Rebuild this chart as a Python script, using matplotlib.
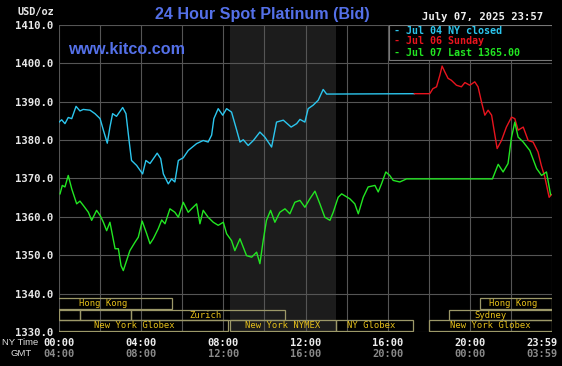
import matplotlib
matplotlib.use("Agg")
import matplotlib.pyplot as plt
from matplotlib.patches import Rectangle
from matplotlib.transforms import blended_transform_factory

# ---------------- data ----------------
jul04_h = [0, 0.13, 0.29, 0.45, 0.62, 0.83, 1.02, 1.18, 1.51, 1.75, 2.0, 2.16, 2.35, 2.48, 2.61, 2.8,
           3.1, 3.26, 3.42, 3.53, 3.78, 4.07, 4.23, 4.43, 4.78, 4.95, 5.08, 5.32, 5.48, 5.64, 5.81,
           6.05, 6.29, 6.7, 7.02, 7.26, 7.43, 7.54, 7.75, 7.97, 8.16, 8.4, 8.65, 8.81, 8.97, 9.21,
           9.46, 9.78, 10.02, 10.35, 10.59, 10.92, 11.3, 11.57, 11.73, 11.97, 12.13, 12.37, 12.62,
           12.86, 13.03, 17.3]
jul04_v = [1384.7, 1385.3, 1384.3, 1385.9, 1385.6, 1388.8, 1387.6, 1388.0, 1387.8, 1386.9, 1385.6,
           1382.6, 1379.2, 1383.4, 1386.9, 1386.2, 1388.5, 1386.9, 1379.5, 1374.7, 1373.4, 1371.2,
           1374.7, 1373.9, 1376.6, 1375.2, 1371.2, 1368.6, 1369.9, 1369.1, 1374.7, 1375.4, 1377.3,
           1379.1, 1379.9, 1379.5, 1381.3, 1385.6, 1388.2, 1386.5, 1388.2, 1387.3, 1382.6, 1379.5,
           1380.1, 1378.6, 1379.9, 1382.1, 1380.8, 1378.2, 1384.7, 1385.2, 1383.4, 1384.3, 1385.4,
           1384.7, 1388.2, 1389.1, 1390.4, 1393.2, 1392.0, 1392.1]

jul06_h = [17.3, 18.05, 18.2, 18.38, 18.54, 18.65, 18.78, 18.94, 19.1, 19.35, 19.59, 19.76, 20.0,
           20.24, 20.4, 20.57, 20.73, 20.89, 21.06, 21.22, 21.33, 21.54, 21.78, 22.03, 22.19, 22.35,
           22.6, 22.84, 23.08, 23.32, 23.48, 23.65, 23.86, 23.97]
jul06_v = [1392.1, 1392.1, 1393.4, 1393.9, 1396.9, 1399.3, 1397.8, 1396.1, 1395.6, 1394.3, 1393.9,
           1395.0, 1394.3, 1395.2, 1393.9, 1389.9, 1386.5, 1387.8, 1386.5, 1381.3, 1377.8, 1379.9,
           1383.4, 1386.0, 1385.6, 1382.6, 1383.4, 1379.9, 1379.5, 1376.9, 1373.4, 1370.4, 1365.1,
           1365.8]

jul07_h = [0.05, 0.16, 0.29, 0.45, 0.62, 0.86, 1.02, 1.18, 1.43, 1.59, 1.83, 2.0, 2.16, 2.32, 2.48,
           2.73, 2.89, 3.02, 3.13, 3.29, 3.45, 3.7, 3.86, 4.05, 4.27, 4.43, 4.59, 4.83, 5.0, 5.16,
           5.4, 5.64, 5.81, 6.05, 6.29, 6.45, 6.7, 6.86, 7.02, 7.26, 7.51, 7.75, 8.0, 8.16, 8.4,
           8.56, 8.81, 8.97, 9.13, 9.38, 9.62, 9.78, 9.94, 10.1, 10.3, 10.51, 10.75, 11.0, 11.24,
           11.48, 11.73, 11.97, 12.21, 12.46, 12.7, 12.94, 13.19, 13.35, 13.59, 13.76, 14.16, 14.4,
           14.57, 14.81, 15.05, 15.38, 15.54, 15.7, 15.91, 16.1, 16.27, 16.59, 16.92, 21.1, 21.38,
           21.62, 21.86, 22.03, 22.19, 22.35, 22.6, 22.92, 23.25, 23.49, 23.73, 23.93]
jul07_v = [1366.0, 1368.2, 1367.8, 1370.8, 1367.3, 1363.4, 1364.1, 1363.0, 1361.2, 1359.1, 1361.7,
           1360.4, 1358.6, 1356.4, 1358.6, 1351.7, 1351.7, 1347.3, 1346.0, 1348.6, 1351.2, 1353.4,
           1354.7, 1358.9, 1355.6, 1353.0, 1354.3, 1356.9, 1359.2, 1358.2, 1362.1, 1361.2, 1359.9,
           1363.8, 1361.2, 1362.1, 1363.4, 1358.2, 1361.7, 1359.9, 1358.6, 1357.8, 1358.6, 1355.6,
           1353.8, 1351.2, 1354.3, 1352.1, 1349.9, 1349.5, 1350.8, 1347.8, 1353.8, 1359.1, 1361.7,
           1358.6, 1361.2, 1362.1, 1360.8, 1363.8, 1364.3, 1362.5, 1364.7, 1366.7, 1363.4, 1359.9,
           1359.1, 1361.2, 1365.1, 1366.0, 1364.7, 1363.4, 1360.8, 1365.1, 1367.8, 1368.2, 1366.5,
           1368.6, 1371.7, 1370.8, 1369.5, 1369.1, 1369.9, 1369.9, 1373.7, 1371.7, 1373.9, 1380.8,
           1384.7, 1380.8, 1379.5, 1377.3, 1372.6, 1370.8, 1371.7, 1365.8]

legend_labels = ["Jul 04 NY closed", "Jul 06 Sunday", "Jul 07 Last 1365.00"]

y_ticks = [1330, 1340, 1350, 1360, 1370, 1380, 1390, 1400, 1410]
ny_tick_hours = [0, 4, 8, 12, 16, 20, 23.98]
ny_tick_labels = ["00:00", "04:00", "08:00", "12:00", "16:00", "20:00", "23:59"]
gmt_tick_labels = ["04:00", "08:00", "12:00", "16:00", "20:00", "00:00", "03:59"]

nymex_session = (8.33, 13.5)

market_names = ["Hong Kong", "Hong Kong", "", "", "Zurich", "Sydney",
                "New York Globex", "New York NYMEX", "NY Globex", "New York Globex"]
market_start = [-1.2, 20.5, 0.0, 1.0, 3.5, 19.0, -0.95, 8.33, 13.5, 18.0]
market_end = [5.5, 24.0, 1.0, 3.5, 11.0, 24.0, 8.25, 13.5, 17.25, 24.0]
market_row = [0, 0, 1, 1, 1, 1, 2, 2, 2, 2]
market_label_hour = [2.15, 22.1, None, None, 7.15, 21.0, 3.65, 10.9, 15.2, 21.0]

# ---------------- style ----------------
W, H = 562, 366
BG = "#000000"
GRID = "#555555"
CYAN = "#2cc6ee"
RED = "#e8141e"
GREEN = "#22e622"
TITLE_BLUE = "#5470e8"
MONO = "DejaVu Sans Mono"

fig = plt.figure(figsize=(W / 100, H / 100), dpi=100, facecolor=BG)
ax = fig.add_axes([59 / W, 34 / H, 493 / W, 307 / H])
ax.set_facecolor(BG)
ax.set_xlim(0, 24)
ax.set_ylim(1330, 1410)
for s in ax.spines.values():
    s.set_visible(False)

ax.axvspan(*nymex_session, color="#1c1c1c", zorder=0, lw=0)

ax.set_xticks(range(0, 25, 2))
ax.set_xticklabels([])
ax.set_yticks(y_ticks)
ax.set_yticklabels([f"{v:.1f}" for v in y_ticks], family=MONO, fontsize=7.7,
                   fontweight="bold", color="#e8e8e8")
ax.tick_params(length=0, pad=4)
ax.tick_params(axis="x", length=0)
ax.grid(True, color=GRID, lw=0.8, zorder=1)
ax.set_axisbelow(True)

ax.plot(jul04_h, jul04_v, color=CYAN, lw=1.0, zorder=3)
ax.plot(jul07_h, jul07_v, color=GREEN, lw=1.0, zorder=4)
ax.plot(jul06_h, jul06_v, color=RED, lw=1.0, zorder=3)

# market session boxes
row_bottom = [1336.1, 1333.0, 1330.2]
row_h = 2.8
for name, s, e, r, lx in zip(market_names, market_start, market_end, market_row,
                             market_label_hour):
    ax.add_patch(Rectangle((s, row_bottom[r]), e - s, row_h, fill=False,
                           edgecolor="#9c9868", lw=0.9, zorder=5, clip_on=True))
    if name:
        ax.text(lx, row_bottom[r] + row_h / 2, name, family=MONO, fontsize=6.4,
                color="#e6c01a", ha="center", va="center", zorder=6, clip_on=True)

# legend box
ax.add_patch(Rectangle((16.06, 1400.8), 24 - 16.06, 9.2, facecolor=BG,
                       edgecolor="#777777", lw=0.8, zorder=7))
for i, (lab, col) in enumerate(zip(legend_labels, [CYAN, RED, GREEN])):
    fig.text(394 / W, 1 - (30.5 + 11 * i) / H, "- " + lab, family=MONO, fontsize=7.2,
             color=col, ha="left", va="center", fontweight="bold")

# titles
fig.text(262 / W, 1 - 14 / H, "24 Hour Spot Platinum (Bid)", family="Liberation Sans",
         fontweight="bold", fontsize=11.6, color=TITLE_BLUE, ha="center", va="center")
fig.text(68 / W, 1 - 49 / H, "www.kitco.com", family="Liberation Sans",
         fontweight="bold", fontsize=11.6, color=TITLE_BLUE, ha="left", va="center")
fig.text(54 / W, 1 - 12 / H, "USD/oz", family=MONO, fontsize=7.4, color="#e8e8e8",
         ha="right", va="center", fontweight="bold")
fig.text(543 / W, 1 - 17 / H, "July 07, 2025 23:57", family=MONO, fontsize=7.6,
         color="#f0f0f0", ha="right", va="center", fontweight="bold")

# x labels
trans = blended_transform_factory(ax.transData, fig.transFigure)
for hh, l1, l2 in zip(ny_tick_hours, ny_tick_labels, gmt_tick_labels):
    xx = hh if hh < 23 else 23.5
    ax.text(xx, 1 - 342.5 / H, l1, transform=trans, family=MONO, fontsize=7.5,
            fontweight="bold", color="#eeeeee", ha="center", va="center")
    ax.text(xx, 1 - 354 / H, l2, transform=trans, family=MONO, fontsize=7.5,
            fontweight="bold", color="#8a8a8a", ha="center", va="center")
fig.text(2 / W, 1 - 342.5 / H, "NY Time", family="Liberation Sans", fontsize=6.8,
         color="#dddddd", ha="left", va="center")
fig.text(10 / W, 1 - 354 / H, "GMT", family="Liberation Sans", fontsize=6.8,
         color="#dddddd", ha="left", va="center")

fig.savefig("out.png", dpi=100, facecolor=BG)
